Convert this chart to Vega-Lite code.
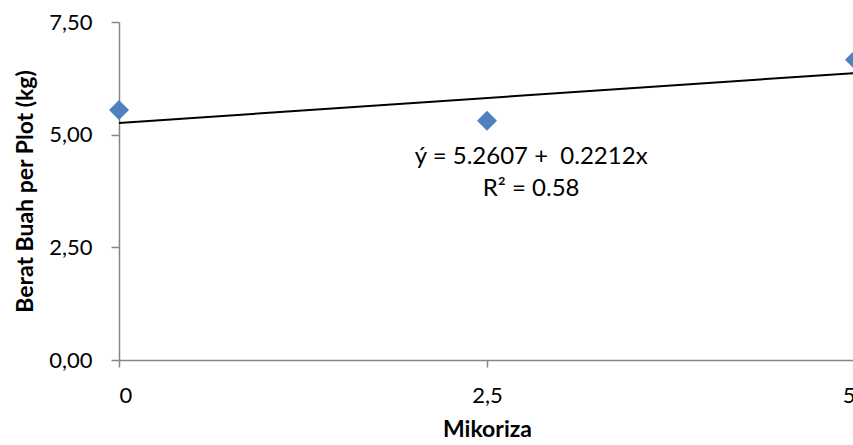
{
  "$schema": "https://vega.github.io/schema/vega-lite/v6.json",
  "width": 736,
  "height": 338,
  "autosize": {"type": "none"},
  "padding": {"left": 119, "top": 22, "right": 0, "bottom": 85},
  "background": "white",
  "config": {
    "view": {"stroke": null},
    "font": "Lato",
    "axis": {
      "grid": false,
      "domainColor": "#868686",
      "domainWidth": 1.5,
      "tickColor": "#868686",
      "tickWidth": 1.5,
      "tickSize": 8,
      "labelFont": "Lato",
      "labelFontSize": 22,
      "labelColor": "#000000",
      "labelPadding": 18,
      "titleFont": "Lato",
      "titleFontSize": 23,
      "titleFontWeight": "bold",
      "titleColor": "#000000"
    }
  },
  "datasets": {
    "points": [
      {"Mikoriza": 0, "Berat": 5.55},
      {"Mikoriza": 2.5, "Berat": 5.31},
      {"Mikoriza": 5, "Berat": 6.66}
    ],
    "trend": [
      {"Mikoriza": 0, "Berat": 5.2607},
      {"Mikoriza": 5, "Berat": 6.3667}
    ]
  },
  "layer": [
    {
      "data": {"name": "trend"},
      "mark": {"type": "line", "color": "#000000", "strokeWidth": 2},
      "encoding": {
        "x": {
          "field": "Mikoriza",
          "type": "quantitative",
          "scale": {"domain": [0, 5], "nice": false},
          "axis": {
            "title": "Mikoriza",
            "values": [0, 2.5, 5],
            "labelExpr": "replace(format(datum.value, '.1~f'), '.', ',')",
            "titlePadding": 12,
            "tickSize": 7
          }
        },
        "y": {
          "field": "Berat",
          "type": "quantitative",
          "scale": {"domain": [0, 7.5], "nice": false},
          "axis": {
            "title": "Berat Buah per Plot (kg)",
            "values": [0, 2.5, 5, 7.5],
            "labelExpr": "replace(format(datum.value, '.2f'), '.', ',')",
            "labelPadding": 19,
            "titlePadding": 11
          }
        }
      }
    },
    {
      "data": {"name": "points"},
      "mark": {"type": "point", "shape": "diamond", "filled": true, "color": "#4F81BD", "opacity": 1, "size": 400},
      "encoding": {
        "x": {"field": "Mikoriza", "type": "quantitative"},
        "y": {"field": "Berat", "type": "quantitative"}
      }
    },
    {
      "data": {"values": [{}]},
      "mark": {"type": "text", "font": "Lato", "fontSize": 24, "color": "#000000", "align": "center", "baseline": "middle", "lineHeight": 32},
      "encoding": {
        "x": {"datum": 2.8},
        "y": {"datum": 4.5},
        "text": {"value": ["ý = 5.2607 + \u00a00.2212x", "R² = 0.58"]}
      }
    }
  ]
}
